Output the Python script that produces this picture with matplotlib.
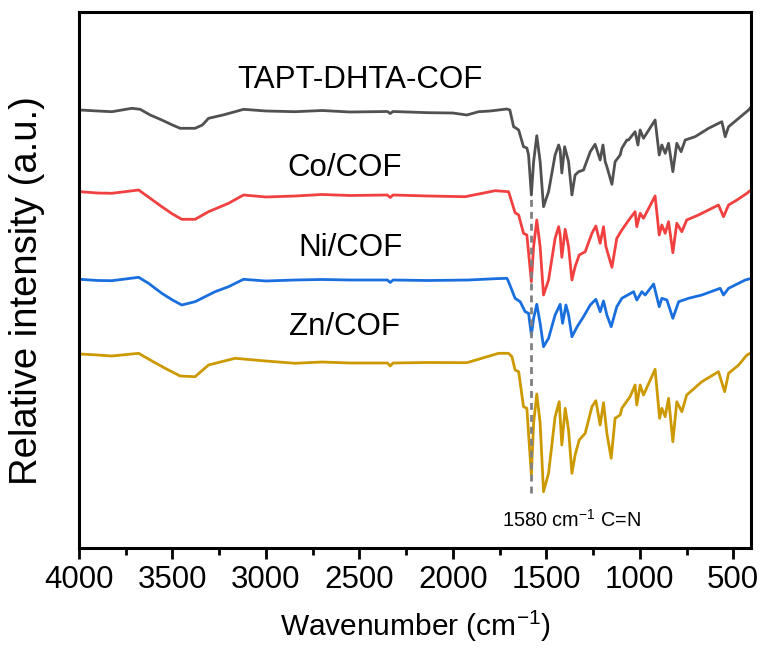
import matplotlib
matplotlib.use("Agg")
import matplotlib.pyplot as plt
from matplotlib.ticker import MultipleLocator

plt.rcParams['font.family'] = ['Liberation Sans', 'DejaVu Sans']
plt.rcParams['mathtext.fontset'] = 'custom'
plt.rcParams['mathtext.rm'] = 'Liberation Sans'
plt.rcParams['mathtext.it'] = 'Liberation Sans'

# ---------------- data (wavenumber in cm-1, relative intensity in a.u.) ----------------
wn_cof = [3995, 3900, 3824, 3717, 3673, 3619, 3557, 3500, 3459, 3379, 3340, 3307, 3230, 3165, 3120, 3000,
          2844, 2700, 2550, 2350, 2335, 2320, 2130, 2000, 1925, 1862, 1800, 1711, 1695, 1675, 1663, 1648,
          1622, 1604, 1595, 1580, 1568, 1551, 1533, 1515, 1488, 1453, 1434, 1426, 1417, 1402, 1381, 1363,
          1346, 1327, 1301, 1265, 1239, 1212, 1197, 1185, 1176, 1149, 1132, 1105, 1096, 1069, 1060, 1025,
          1010, 998, 980, 918, 896, 882, 864, 846, 823, 802, 779, 757, 704, 632, 561, 543, 525, 471, 418, 405]
int_cof = [438, 437, 436.3, 439.7, 438.7, 433, 428, 423, 419.7, 419.7, 423, 429.7, 433, 436.3, 438.7, 437,
           436.3, 437.5, 436, 436.5, 434.5, 436.5, 435.3, 435, 433, 436.3, 437, 439, 438, 421.3, 420, 418,
           401.3, 400, 393, 353, 386.3, 412.3, 386.3, 341.3, 356.3, 393, 403, 398, 375, 401.3, 386.3, 353,
           373, 376.3, 378, 396.3, 403.7, 388, 403, 386.3, 381.3, 363.7, 386.3, 393, 399.7, 408, 408, 416.3,
           403, 418, 409.7, 428, 393, 403, 394.7, 404.7, 376.3, 404.7, 396.3, 408, 411.3, 419.7, 426.3, 411.3,
           421.3, 429.7, 438, 441]

wn_co = [3995, 3900, 3824, 3681, 3619, 3557, 3500, 3450, 3379, 3307, 3200, 3120, 3000, 2844, 2700, 2550,
         2350, 2335, 2320, 2130, 1934, 1774, 1702, 1667, 1648, 1622, 1604, 1580, 1568, 1551, 1533, 1515,
         1488, 1453, 1434, 1426, 1417, 1399, 1381, 1363, 1346, 1324, 1292, 1256, 1235, 1212, 1194, 1181,
         1149, 1123, 1096, 1052, 1025, 1016, 998, 980, 918, 896, 882, 864, 846, 823, 802, 775, 749, 686,
         579, 552, 525, 480, 427, 405]
int_co = [356.3, 355, 354.7, 358, 349.7, 341.3, 334, 328.7, 328.7, 336.3, 344.7, 353, 351, 352, 353.5, 352.5,
          353, 350.5, 353, 352, 351.3, 357.3, 356.3, 335.3, 333, 314.7, 313, 266.3, 301.3, 328, 301.3, 253,
          268, 309.7, 321.3, 313, 290.7, 318.7, 301.3, 268, 281.3, 293, 296.3, 314.7, 322, 304.7, 321.3, 301.3,
          280.7, 309.7, 318, 329.7, 336.3, 321.3, 334.7, 329.7, 352, 313, 323, 314.7, 326.3, 295.3, 324.7, 316.3,
          328, 333, 343, 331.3, 343, 348, 354.7, 358]

wn_ni = [3995, 3900, 3824, 3681, 3628, 3557, 3500, 3450, 3379, 3272, 3200, 3120, 3000, 2844, 2700, 2550,
         2350, 2335, 2320, 2130, 1915, 1774, 1711, 1702, 1667, 1640, 1613, 1595, 1580, 1568, 1551, 1533,
         1515, 1488, 1453, 1426, 1413, 1395, 1381, 1363, 1335, 1301, 1265, 1235, 1212, 1194, 1176, 1153,
         1123, 1096, 1033, 1016, 989, 971, 926, 896, 882, 855, 823, 792, 739, 668, 570, 552, 525, 436, 402]
int_ni = [268.7, 267.5, 267.3, 270.7, 264.7, 254.7, 248, 243, 246.3, 256.3, 261.3, 268.7, 267, 268, 268.5, 268,
          268, 265.5, 268, 267.5, 268, 269.3, 269.7, 266.3, 249.7, 246.3, 236.3, 234.7, 213, 229.7, 243.7, 224.7,
          201.3, 209.7, 233, 243.7, 224.7, 243, 233, 211.3, 221.3, 231.3, 243, 248.7, 236.3, 247, 233, 221.3,
          241.3, 249.7, 256.3, 248, 256.3, 253, 264, 241.3, 249.7, 248, 229.7, 246.3, 249.7, 253, 259.7, 253,
          259.7, 268, 269.7]

wn_zn = [3995, 3900, 3824, 3681, 3619, 3539, 3459, 3379, 3307, 3165, 3000, 2844, 2700, 2550, 2350, 2335,
         2320, 2130, 1925, 1755, 1702, 1684, 1667, 1648, 1622, 1604, 1580, 1568, 1551, 1533, 1515, 1488,
         1453, 1431, 1417, 1399, 1381, 1363, 1346, 1324, 1292, 1256, 1235, 1212, 1194, 1176, 1153, 1132,
         1105, 1096, 1052, 1025, 1016, 998, 980, 918, 894, 882, 864, 846, 823, 802, 775, 749, 668, 579,
         546, 525, 471, 427, 409]
int_zn = [194, 193, 192, 194.7, 188, 179.7, 172, 171.3, 183, 189.7, 187, 184.7, 186, 185, 185, 182,
          185, 185.5, 185.3, 194.7, 194.7, 191.3, 178, 176.3, 141.3, 139.7, 73, 124.7, 154, 124.7, 56.3, 74.7,
          131.3, 146.3, 103, 139.7, 118, 74.7, 93, 108, 114.7, 141.3, 147.3, 123, 145.3, 114.7, 89.7, 129.7,
          133, 139.7, 151.3, 163, 143, 163, 153, 178.7, 129.7, 139.7, 131.3, 149.7, 106.3, 146.3, 136.3, 153,
          166.3, 176.3, 156.3, 174.7, 183, 193, 194.7]

series_names = ["TAPT-DHTA-COF", "Co/COF", "Ni/COF", "Zn/COF"]
label_wn = [2498, 2578, 2546, 2578]
label_y = [468, 380, 300, 221]
peak_wn = 1580
peak_span = [55, 353]
peak_text = "1580 cm$^{-1}$ C=N"
x_ticks = [4000, 3500, 3000, 2500, 2000, 1500, 1000, 500]

colors = ["#515151", "#F14040", "#1A6FDF", "#CC9900"]

# ---------------- figure ----------------
fig = plt.figure(figsize=(7.61, 6.57), dpi=100)
ax = fig.add_axes([79/761, 1 - 548/657, 672/761, 536/657])

for wn, y, c in zip([wn_cof, wn_co, wn_ni, wn_zn], [int_cof, int_co, int_ni, int_zn], colors):
    ax.plot(wn, y, color=c, lw=2.0, solid_joinstyle='round', solid_capstyle='round')

ax.plot([peak_wn, peak_wn], peak_span, color="#808080", lw=2.0, ls=(0, (2.5, 1.8)), zorder=5)
ax.text(1738, 28, peak_text, fontsize=14.3, ha='left', va='center')

for name, xx, yy in zip(series_names, label_wn, label_y):
    ax.text(xx, yy, name, fontsize=22.5, ha='center', va='center')

ax.set_xlim(4000, 405)
ax.set_ylim(0, 536)
ax.set_xticks(x_ticks)
ax.xaxis.set_minor_locator(MultipleLocator(250))
ax.set_yticks([])
ax.tick_params(axis='x', which='major', direction='out', length=8, width=2, labelsize=22.5, pad=4)
ax.tick_params(axis='x', which='minor', direction='out', length=5, width=2)
for s in ax.spines.values():
    s.set_linewidth(2.2)

ax.set_xlabel("Wavenumber (cm$^{-1}$)", fontsize=21.5, labelpad=10)
ax.set_ylabel("Relative intensity (a.u.)", fontsize=27.5)
ax.yaxis.set_label_coords(-0.05, 0.48)

fig.savefig("out.png", dpi=100)
